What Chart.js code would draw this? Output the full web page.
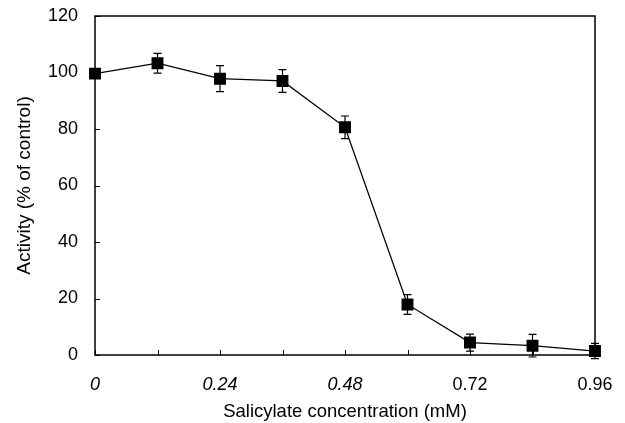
<!DOCTYPE html>
<html lang="en">
<head>
  <meta charset="UTF-8">
  <title>Salicylate inhibition</title>
  <script src="https://cdn.jsdelivr.net/npm/chart.js"></script>
  <style>
    html, body { margin: 0; padding: 0; background: #fff; }
    #wrap { width: 625px; height: 423px; }
  </style>
</head>
<body>
  <div id="wrap"><canvas id="activityChart"></canvas></div>

  <script>
    // values
    const concentrations = [0, 0.12, 0.24, 0.36, 0.48, 0.60, 0.72, 0.84, 0.96];
    const activity = [99.6, 103.3, 97.8, 97.0, 80.6, 17.9, 4.4, 3.3, 1.4];
    const errors = [1.5, 3.5, 4.6, 4.0, 4.0, 3.5, 3.0, 4.0, 2.7];
    const xTickLabels = ['0', '0.24', '0.48', '0.72', '0.96'];
    const yTicks = [0, 20, 40, 60, 80, 100, 120];

    const FONT = "'Liberation Sans', Arial, sans-serif";

    // error bars, inward tick marks and the closed frame
    const extras = {
      id: 'extras',
      afterDatasetsDraw(chart) {
        const ctx = chart.ctx;
        const xs = chart.scales.x, ys = chart.scales.y;
        const a = chart.chartArea;
        ctx.save();
        ctx.strokeStyle = '#000';
        ctx.lineWidth = 1.2;
        concentrations.forEach((c, i) => {
          const px = xs.getPixelForValue(c);
          const top = ys.getPixelForValue(activity[i] + errors[i]);
          const bot = ys.getPixelForValue(activity[i] - errors[i]);
          ctx.beginPath();
          ctx.moveTo(px, top); ctx.lineTo(px, bot);
          ctx.moveTo(px - 4, top); ctx.lineTo(px + 4, top);
          ctx.moveTo(px - 4, bot); ctx.lineTo(px + 4, bot);
          ctx.stroke();
        });
        ctx.lineWidth = 1;
        ctx.beginPath();
        concentrations.forEach(c => {
          const px = Math.round(xs.getPixelForValue(c)) + 0.5;
          ctx.moveTo(px, a.bottom); ctx.lineTo(px, a.bottom - 5);
        });
        yTicks.forEach(v => {
          const py = Math.round(ys.getPixelForValue(v)) + 0.5;
          ctx.moveTo(a.left, py); ctx.lineTo(a.left + 5, py);
        });
        ctx.stroke();
        ctx.lineWidth = 1.5;
        ctx.strokeRect(a.left, a.top, a.right - a.left, a.bottom - a.top);
        ctx.restore();
      }
    };

    new Chart(document.getElementById('activityChart'), {
      type: 'line',
      data: {
        datasets: [{
          data: concentrations.map((c, i) => ({ x: c, y: activity[i] })),
          borderColor: '#000',
          borderWidth: 1.3,
          backgroundColor: '#000',
          pointStyle: 'rect',
          pointRadius: 7.5,
          pointHoverRadius: 7.5,
          tension: 0,
          clip: false
        }]
      },
      options: {
        responsive: true,
        maintainAspectRatio: false,
        animation: false,
        layout: { padding: { top: 16, right: 30, left: 0, bottom: 0 } },
        plugins: { legend: { display: false }, tooltip: { enabled: false } },
        scales: {
          x: {
            type: 'linear',
            min: 0,
            max: 0.96,
            afterBuildTicks: s => { s.ticks = xTickLabels.map(Number).map(v => ({ value: v })); },
            afterFit: s => { s.height = 68; s.paddingLeft = 0; s.paddingRight = 0; },
            border: { display: false },
            grid: { display: false, drawTicks: false },
            ticks: {
              padding: 19,
              color: '#000',
              maxRotation: 0,
              autoSkip: false,
              font: ctx => ({ family: FONT, size: 18, style: ctx.index < 3 ? 'italic' : 'normal' }),
              callback: (v, i) => xTickLabels[i]
            },
            title: {
              display: true,
              text: 'Salicylate concentration (mM)',
              color: '#000',
              font: { family: FONT, size: 18.5 },
              padding: { top: 0, bottom: 0 }
            }
          },
          y: {
            min: 0,
            max: 120,
            afterFit: s => { s.width = 95; s.paddingTop = 0; s.paddingBottom = 0; },
            border: { display: false },
            grid: { display: false, drawTicks: false },
            ticks: {
              stepSize: 20,
              padding: 17,
              color: '#000',
              font: { family: FONT, size: 18 }
            },
            title: {
              display: true,
              text: 'Activity (% of control)',
              color: '#000',
              font: { family: FONT, size: 19 },
              padding: { top: 13, bottom: 0 }
            }
          }
        }
      },
      plugins: [extras]
    });
  </script>
</body>
</html>
